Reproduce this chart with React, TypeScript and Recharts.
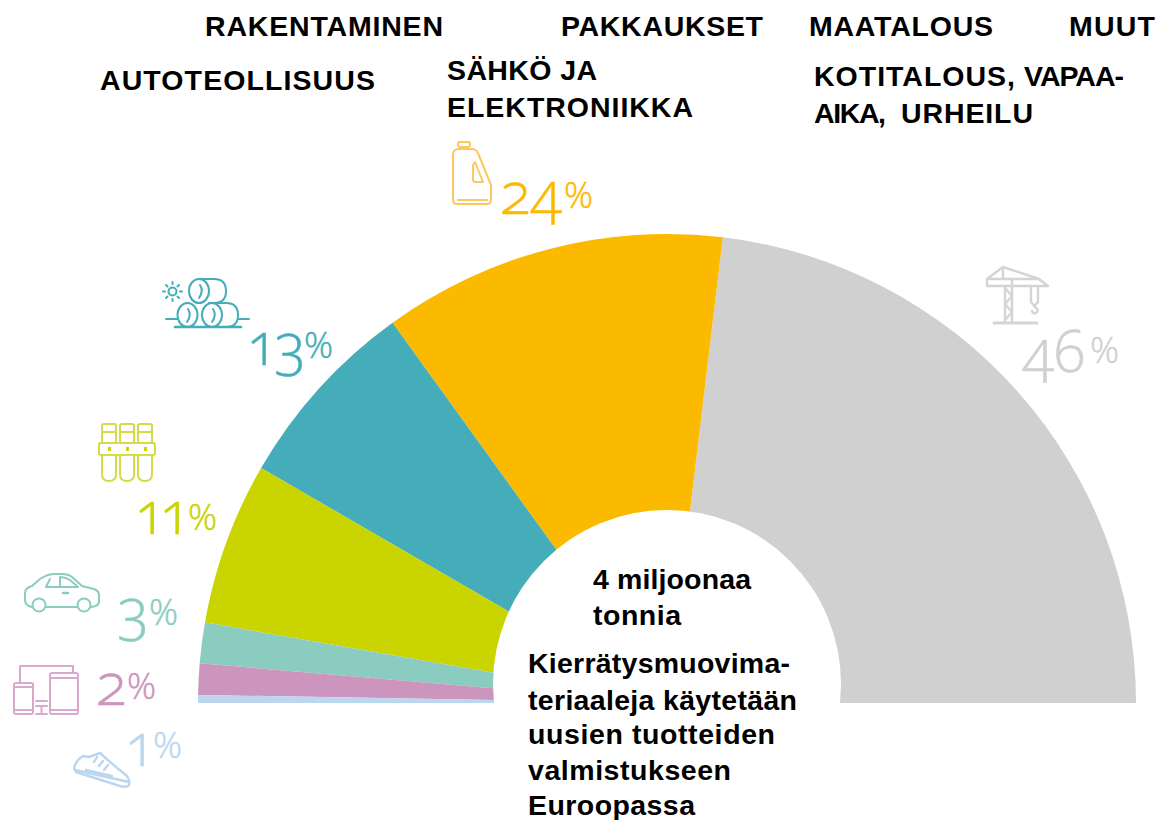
import React from "react";
import { PieChart, Pie, Cell } from "recharts";

const sectorKeys = ["Rakentaminen", "Pakkaukset", "Maatalous", "Autoteollisuus", "Sahko", "Kotitalous", "Muut"];
const shares = [46, 24, 13, 11, 3, 2, 1];
const arcShares = [46.2, 23.7, 13.4, 11.2, 2.8, 2.15, 0.55];
const colors = ["#d0d0d0", "#fbba00", "#45adb9", "#c9d400", "#8bccc0", "#cc95bd", "#bcd6f0"];
const data = sectorKeys.map((name, i) => ({ name, value: arcShares[i], share: shares[i] }));

const labelPos = [
  { x: 1023, y: 372, px: 1090, py: 363, ls: 0 },
  { x: 500, y: 214, px: 564, py: 208, ls: 0 },
  { x: 247, y: 365, px: 304, py: 358, ls: -3 },
  { x: 135, y: 534, px: 188, py: 530, ls: -6 },
  { x: 118, y: 630, px: 149, py: 625, ls: 0 },
  { x: 96, y: 705, px: 127, py: 699, ls: 0 },
  { x: 125, y: 766, px: 153, py: 758, ls: 0 },
];

const headerTexts: [string, number, number, number][] = [
  ["RAKENTAMINEN", 205, 36, 238],
  ["PAKKAUKSET", 561, 36, 202],
  ["MAATALOUS", 809, 36, 184],
  ["MUUT", 1069, 36, 86],
  ["AUTOTEOLLISUUS", 100, 90, 275],
  ["SÄHKÖ JA", 447, 80, 150],
  ["ELEKTRONIIKKA", 447, 117, 246],
  ["KOTITALOUS,", 814, 86, 201],
  ["VAPAA-", 1024, 86, 100],
  ["AIKA,", 814, 123, 72],
  ["URHEILU", 901, 123, 132],
  ["4 miljoonaa", 593, 589, 158],
  ["tonnia", 593, 625, 88],
  ["Kierrätysmuovima-", 528, 673, 262],
  ["teriaaleja käytetään", 528, 710, 269],
  ["uusien tuotteiden", 528, 744, 247],
  ["valmistukseen", 528, 780, 203],
  ["Euroopassa", 528, 815, 167],
];

function PctLabel(props: any) {
  const p = labelPos[props.index];
  const c = colors[props.index];
  return (
    <text fill={c} stroke={c} strokeWidth={0.5} fontFamily="'Open Sans', Lato, sans-serif" fontWeight={300}>
      <tspan x={p.x} y={p.y} fontSize={58} letterSpacing={p.ls} style={{ fontVariantNumeric: "oldstyle-nums" }}>{props.payload.share}</tspan>
      <tspan x={p.px} y={p.py} fontSize={36}>%</tspan>
    </text>
  );
}

function Icons() {
  const s = { fill: "none", strokeWidth: 2, strokeLinecap: "round", strokeLinejoin: "round" } as any;
  return (
    <svg width={1159} height={820} style={{ position: "absolute", left: 0, top: 0, pointerEvents: "none" }}>
      <circle cx={667} cy={684} r={174} fill="#fff" />
      <g {...s} stroke="#fdc860">
        <rect x={458} y={142} width={12} height={5} rx={2} />
        <path d="M453 155Q453 149 459 149H472Q476 149 478 153L491 185V200Q491 204 487 204H457Q453 204 453 200Z" />
        <path d="M473 165L475 162L483 182H475Q473 182 473 180Z" />
        <path d="M458 200H487" />
      </g>
      <g {...s} stroke="#45adb9">
        <circle cx={172.5} cy={291.5} r={4} />
        <path d="M172.5 282v2M172.5 299v2M163 291.5h2M180 291.5h2M166 285l1.5 1.5M179 285l-1.5 1.5M166 298l1.5-1.5M179 298l-1.5-1.5" />
        <ellipse cx={199} cy={291} rx={10} ry={12} />
        <path d="M199 279H214Q226 279 226 291Q226 303 214 303H209" />
        <path d="M200 285Q204 291 199 298" />
        <ellipse cx={187.5} cy={315} rx={10} ry={12} />
        <path d="M188 309Q192 315 187 322" />
        <ellipse cx={212} cy={315} rx={10} ry={12} />
        <path d="M212 303H226Q238 303 238 315Q238 327 226 327" />
        <path d="M213 309Q217 315 212 322" />
        <path d="M166 319H177M238 319H249" />
        <path d="M175 327H241" strokeWidth={2.4} />
      </g>
      <g {...s} stroke="#d3dc45">
        {[102, 120, 138].map((x) => (
          <g key={x}>
            <path d={`M${x} 443V426Q${x} 424 ${x + 2} 424H${x + 12} Q${x + 14} 424 ${x + 14} 426V443`} />
            <path d={`M${x} 455V474Q${x} 481 ${x + 7} 481Q${x + 14} 481 ${x + 14} 474V455`} />
            <path d={`M${x} 432H${x + 14}`} />
            <rect x={x + 6} y={447} width={3} height={4} fill="#c9d400" stroke="none" />
          </g>
        ))}
        <rect x={99} y={443} width={56} height={12} rx={2} />
      </g>
      <g {...s} stroke="#8bccc0">
        <circle cx={39} cy={605} r={6.5} />
        <circle cx={84} cy={605} r={6.5} />
        <path d="M32 607Q25 606 25 600V593Q25 588 32 586L40 579Q47 574 55 574H62Q68 574 72 577L82 586L94 589Q99 591 99 595V602Q99 606 91 607M46 607H77" />
        <path d="M50 579L46 587H78L70 580Q65 577 60 577L60 587" />
        <path d="M63 593H68" strokeWidth={2.5} />
      </g>
      <g {...s} stroke="#d9a9cb">
        <path d="M20 683V666H73V672" />
        <rect x={50} y={673} width={28} height={41} rx={2} />
        <path d="M50 678H78M50 710H78" />
        <rect x={14} y={683} width={19} height={31} rx={2} />
        <path d="M14 687H33M14 710H33" />
        <path d="M36 701H47M36 706H47M41.5 706V714M36 714H47" />
      </g>
      <g {...s} stroke="#bcd6f0" strokeWidth={2.4}>
        <path d="M74 768Q76 760 83 756L89 757L100 753L110 762L127 776Q130 780 129 785Q127 788 120 786L76 772Z" />
        <path d="M75 770L129 782M97 757L94 762M103 761L99 766M108 765L104 770M86 770L112 776" />
      </g>
      <g {...s} stroke="#d4d4d4" strokeWidth={2.4}>
        <path d="M987 279V286H1048L1039 279H987M987 279L1003 267L1039 279M1003 267V279M1005 286V322M1012 279V322M1005 288L1012 296L1005 304L1012 312L1005 320" />
        <path d="M994 323H1037" strokeWidth={3} />
        <path d="M1031 288V302M1038 288V302M1031 302L1034.5 306L1038 302M1034 306Q1040 310 1036 313Q1033 314 1032 311" />
      </g>
    </svg>
  );
}

export default function App() {
  return (
    <div style={{ position: "absolute", left: 0, top: 0, width: 1159, height: 820, overflow: "hidden", background: "#fff" }}>
      <PieChart width={1159} height={820} margin={{ top: 0, right: 0, bottom: 0, left: 0 }}>
        <Pie
          data={data}
          dataKey="value"
          nameKey="name"
          cx={667}
          cy={703}
          innerRadius={160}
          outerRadius={469}
          startAngle={0}
          endAngle={180}
          stroke="none"
          isAnimationActive={false}
          labelLine={false}
          label={PctLabel}
        >
          {data.map((d, i) => (
            <Cell key={d.name} fill={colors[i]} />
          ))}
        </Pie>
      </PieChart>
      <Icons />
      <svg width={1159} height={820} style={{ position: "absolute", left: 0, top: 0, pointerEvents: "none" }}>
        {headerTexts.map(([t, x, y, w]) => (
          <text key={t} x={x} y={y} fontFamily="'Liberation Sans', Arial, sans-serif" fontWeight={700} fontSize={28.5} fill="#000" textLength={w} lengthAdjust="spacing">
            {t}
          </text>
        ))}
      </svg>
    </div>
  );
}
